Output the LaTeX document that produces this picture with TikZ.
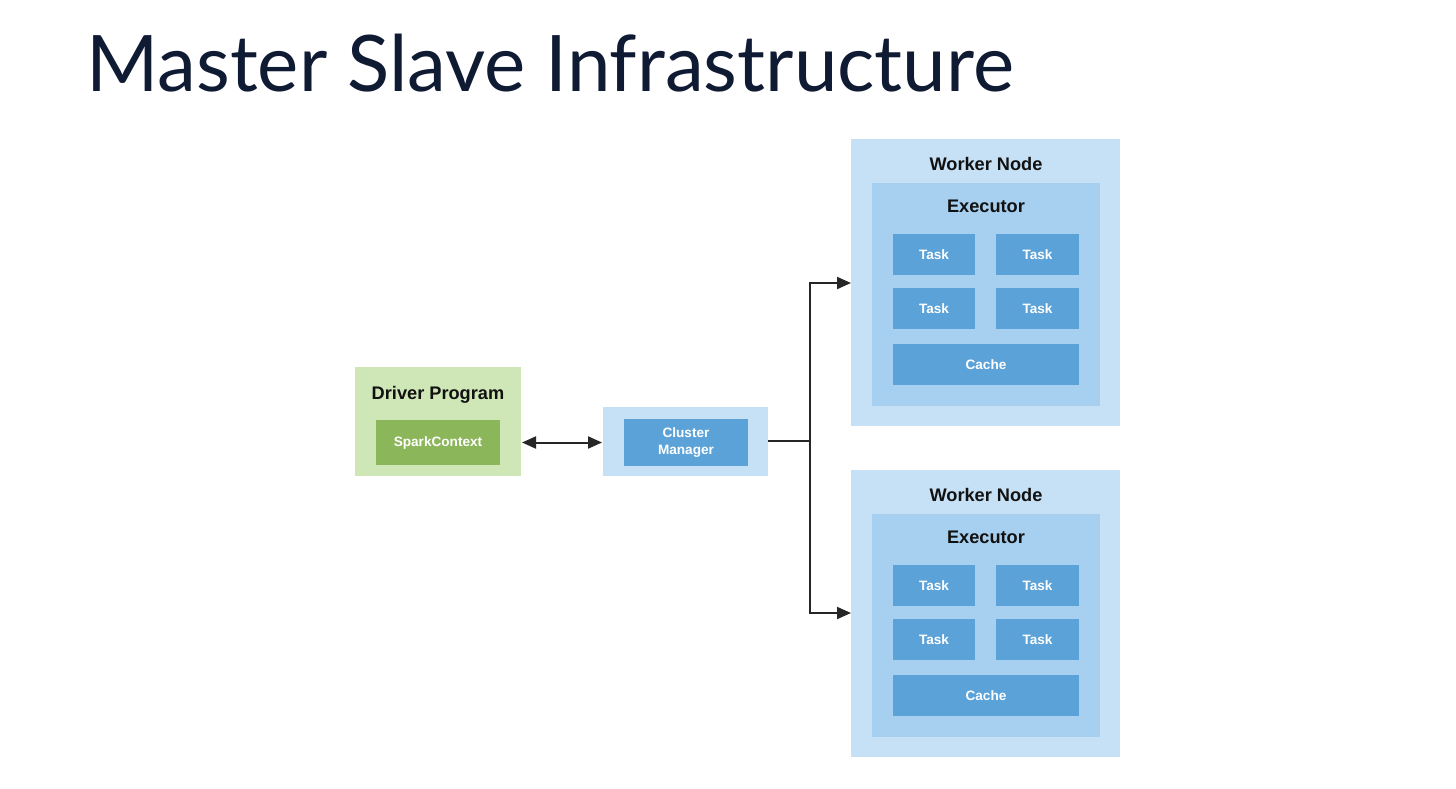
\documentclass[tikz,border=0pt]{standalone}
\usepackage{fontspec}
\setmainfont{Liberation Sans}
\newfontfamily\titlefont{Lato}
\usetikzlibrary{arrows.meta,positioning}
\definecolor{titlec}{HTML}{0F1A33}
\definecolor{drvbg}{HTML}{CFE7B7}
\definecolor{sparkc}{HTML}{8BB65A}
\definecolor{wbg}{HTML}{C6E1F5}
\definecolor{exbg}{HTML}{A7D0F0}
\definecolor{taskc}{HTML}{5BA2D8}
\definecolor{labc}{HTML}{111111}
\tikzset{
  box/.style={anchor=north west, inner sep=0pt, outer sep=0pt, draw=none},
  lbl/.style={font=\bfseries\fontsize{18.2}{21}\selectfont, text=labc},
  wlbl/.style={font=\bfseries\fontsize{13.6}{16}\selectfont, text=white, align=center},
  conn/.style={line width=2pt, draw=black!85},
  tip/.style={-{Triangle[length=14pt,width=12pt]}},
  dtip/.style={{Triangle[length=14pt,width=12pt]}-{Triangle[length=14pt,width=12pt]}},
}
\begin{document}
\begin{tikzpicture}[x=1pt,y=-1pt]
\useasboundingbox (0,0) rectangle (1456,788);
\fill[white] (0,0) rectangle (1456,788);
% title
\node[anchor=base west, inner sep=0pt, font=\titlefont\fontsize{78}{90}\selectfont, text=titlec] (title) at (86,91) {Master Slave Infrastructure};
% driver
\node[box, fill=drvbg, minimum width=166pt, minimum height=109pt] (drv) at (355,367) {};
\node[lbl] (drvl) at (438,395) {Driver Program};
\node[box, fill=sparkc, minimum width=124pt, minimum height=45pt] (spark) at (376,420) {};
\node[wlbl] at (spark.center) {SparkContext};
% cluster manager
\node[box, fill=wbg, minimum width=165pt, minimum height=69pt] (cmo) at (603,407) {};
\node[box, fill=taskc, minimum width=124pt, minimum height=47pt] (cm) at (624,419) {};
\node[wlbl, font=\bfseries\fontsize{13.6}{17}\selectfont] at (cm.center) {Cluster\\Manager};
% worker nodes
\foreach \n/\dy in {1/0, 2/331} {
  \node[box, fill=wbg, minimum width=269pt, minimum height=287pt] (w\n) at (851,139+\dy) {};
  \node[lbl] (w\n l) at (986,164+\dy) {Worker Node};
  \node[box, fill=exbg, minimum width=228pt, minimum height=223pt] (e\n) at (872,183+\dy) {};
  \node[lbl] (e\n l) at (986,206+\dy) {Executor};
  \node[box, fill=taskc, minimum width=82pt, minimum height=41pt] (t\n a) at (893,234+\dy) {};
  \node[box, fill=taskc, minimum width=83pt, minimum height=41pt] (t\n b) at (996,234+\dy) {};
  \node[box, fill=taskc, minimum width=82pt, minimum height=41pt] (t\n c) at (893,288+\dy) {};
  \node[box, fill=taskc, minimum width=83pt, minimum height=41pt] (t\n d) at (996,288+\dy) {};
  \node[box, fill=taskc, minimum width=186pt, minimum height=41pt] (c\n) at (893,344+\dy) {};
  \node[wlbl] at (t\n a.center) {Task};
  \node[wlbl] at (t\n b.center) {Task};
  \node[wlbl] at (t\n c.center) {Task};
  \node[wlbl] at (t\n d.center) {Task};
  \node[wlbl] at (c\n.center) {Cache};
}
% connectors
\draw[conn, dtip] ([xshift=1pt]drv.east |- spark.center) -- ([xshift=-1pt]cmo.west |- spark.center);
\coordinate (split) at (810,441);
\draw[conn] (cmo.east |- split) -- (split);
\draw[conn, tip] (split) |- (851,283);
\draw[conn, tip] (split) |- (851,613);
\end{tikzpicture}
\end{document}
